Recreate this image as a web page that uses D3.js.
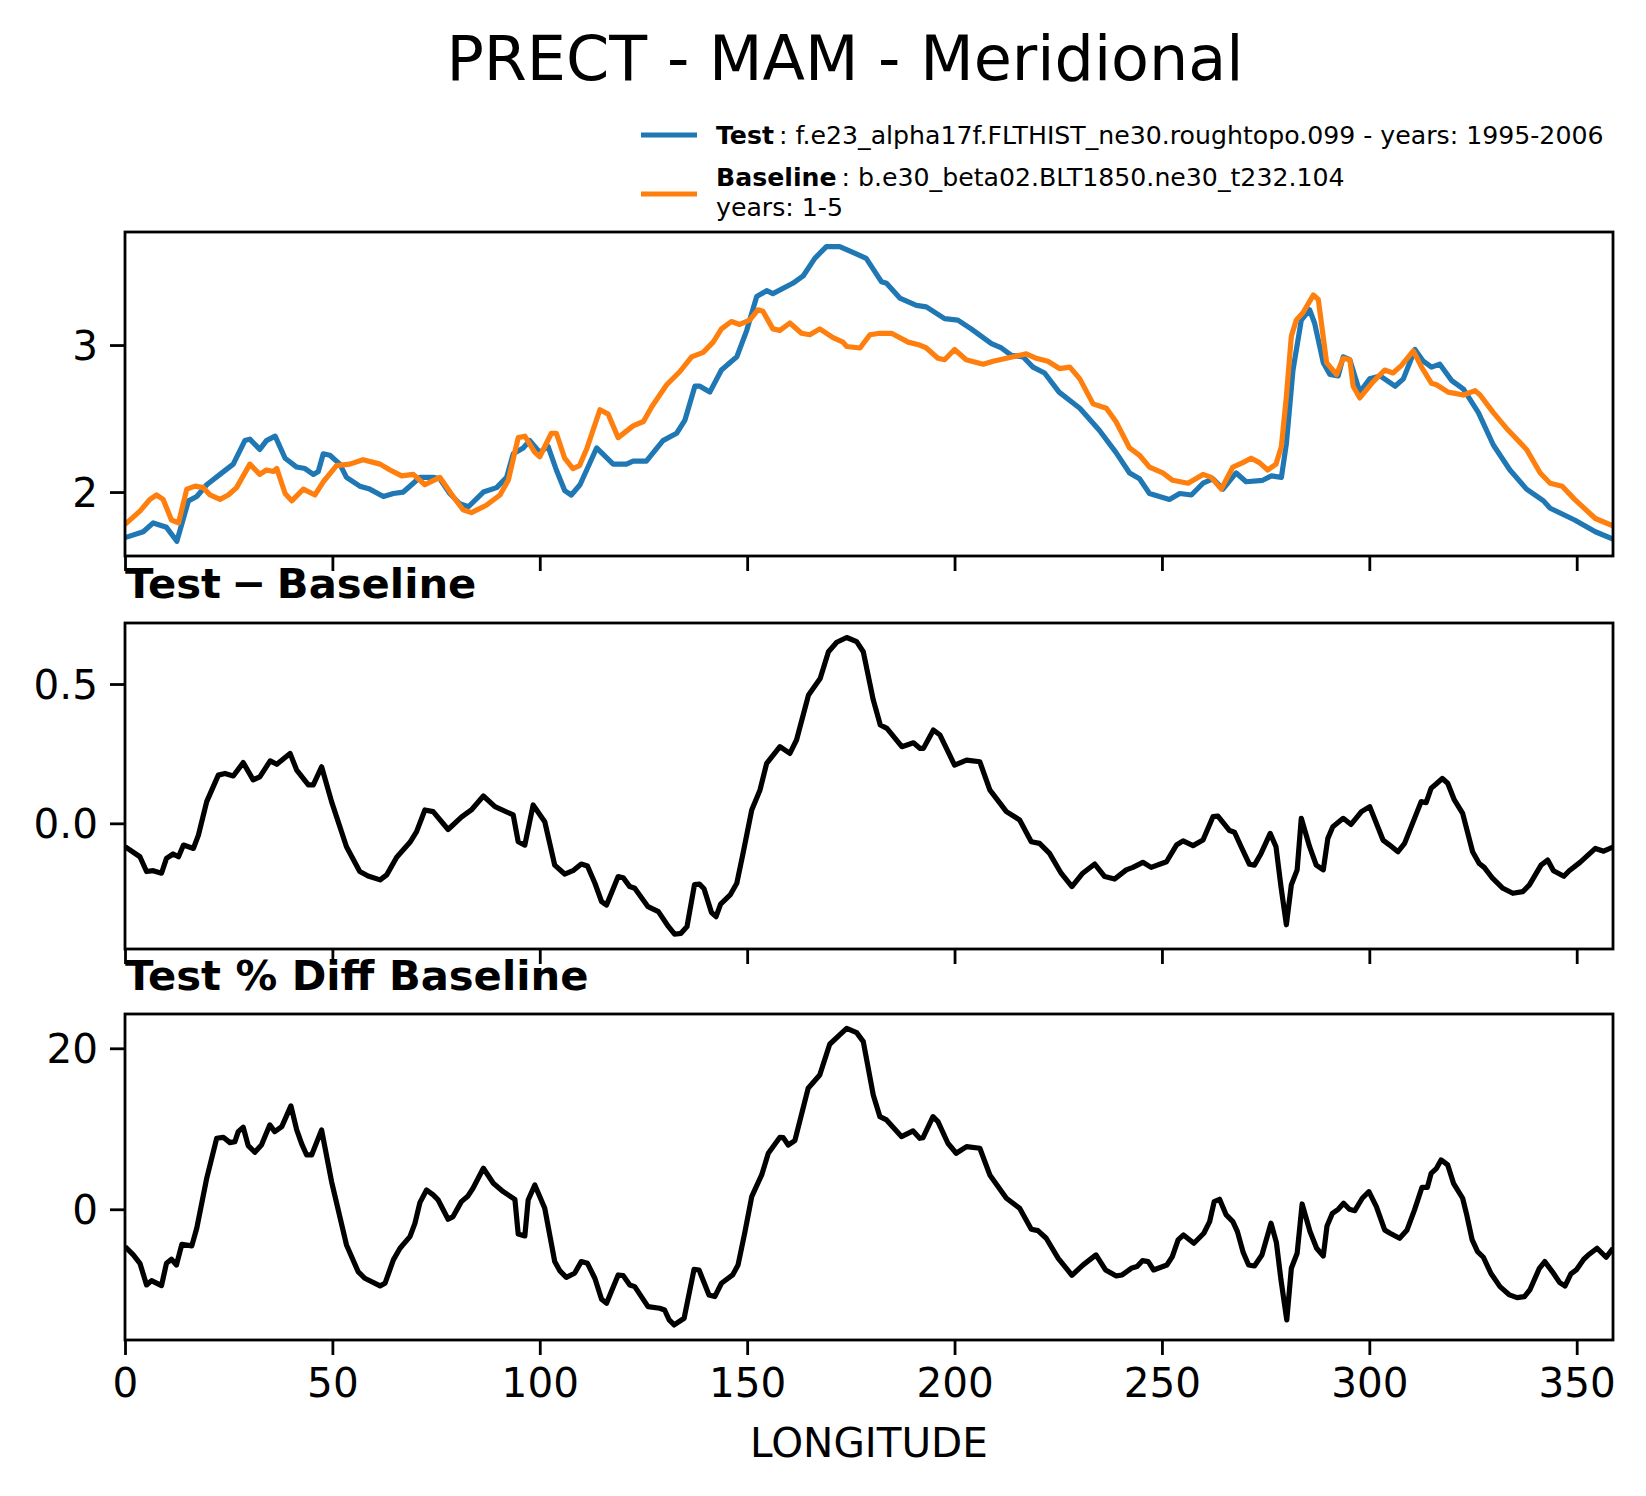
<!DOCTYPE html>
<html>
<head>
<meta charset="utf-8">
<script src="https://cdn.jsdelivr.net/npm/d3@7"></script>
<style>
  body { margin: 0; background: #fff; }
  svg { display: block; font-family: "DejaVu Sans", sans-serif; }
</style>
</head>
<body>
<div id="chart"></div>
<script>
// x axis //
var xTicks = [0, 50, 100, 150, 200, 250, 300, 350];
var xMax = 358.75;

// Test PRECT (blue)
var testLon = [0,4.4,6.8,10,12.5,15.3,17.3,19.7,22.9,26.1,
  28.9,30.1,32.5,34.1,36.2,38.6,41.4,43.4,45.4,46.6,
  47.8,49.4,51.8,53.4,56.6,59,62.3,64.7,67.1,69.5,
  71.1,74.3,75.9,78.3,80.7,82.8,86.4,89.6,92,93.6,
  96,97.6,100,102,104,106,107.6,109.7,113.7,117.7,
  120.9,122.5,125.7,129.7,133,135,137.4,138.6,141,143.8,
  147.5,149.9,152.3,154.7,156.2,161,163.5,166.3,169.1,172.3,
  175.5,178.7,182.4,183.6,186.8,190.8,193.2,197.6,200.8,204,
  208.9,211.3,213.7,216.5,218.9,221.7,225.2,230.2,234.9,238.9,
  242.2,244.6,247,249.4,251.8,254.3,257.1,259.9,262.3,264.7,
  267.9,270.3,274.3,276.4,278.8,280,281.6,283.6,285.6,286.8,
  288.9,290.5,292.5,293.7,295.3,297.7,300.1,302.6,306.2,308.2,
  311,313,315,317,319.8,322.7,326.3,329.9,333.9,337.9,
  342,343.6,349.5,354.5,358.75];
var testVal = [1.69,1.73,1.79,1.76,1.665,1.94,1.97,2.05,2.12,2.19,
  2.35,2.36,2.29,2.35,2.38,2.23,2.17,2.16,2.12,2.14,
  2.26,2.25,2.19,2.10,2.04,2.02,1.97,1.99,2.00,2.06,
  2.10,2.10,2.09,1.99,1.92,1.90,2.00,2.03,2.10,2.26,
  2.30,2.35,2.27,2.31,2.15,2.01,1.98,2.05,2.30,2.19,
  2.19,2.21,2.21,2.35,2.40,2.49,2.72,2.72,2.68,2.83,
  2.92,3.10,3.33,3.37,3.35,3.42,3.47,3.59,3.67,3.67,
  3.63,3.59,3.43,3.42,3.32,3.27,3.26,3.18,3.17,3.11,
  3.01,2.98,2.93,2.92,2.85,2.81,2.68,2.57,2.42,2.27,
  2.13,2.09,1.99,1.97,1.95,1.99,1.98,2.06,2.09,2.02,
  2.13,2.07,2.08,2.11,2.10,2.33,2.83,3.17,3.24,3.15,
  2.88,2.80,2.79,2.92,2.90,2.68,2.77,2.79,2.72,2.77,
  2.97,2.89,2.85,2.87,2.76,2.70,2.54,2.32,2.15,2.02,
  1.94,1.89,1.81,1.73,1.68];

// Baseline PRECT (orange)
var baseLon = [0,3.6,6,7.6,9.2,11.2,12.9,14.9,16.9,18.9,
  20.5,22.9,24.9,26.9,30.1,32.5,34.1,35.8,36.6,38.6,
  40.2,43,45.8,47.8,51,54.2,57.4,61.5,63.9,66.7,
  69.5,72.3,75.9,79.1,81.5,83.5,87.1,90.4,92.4,94.8,
  96.4,98.8,100,102.8,104,106,108,109.6,111.4,114.5,
  116.5,118.9,122.5,125,127,130.6,133.8,136.6,139.4,141.8,
  143.8,146.2,148.2,150.6,152.6,153.8,156.2,157.9,160.3,163.1,
  165.1,167.5,170.7,173.1,174,177.2,179.6,182,184.8,188.8,
  191.6,193.2,196,197.6,200,202.8,206.9,209.3,214.1,217.3,
  219.7,222.5,225.3,227.8,230.2,233.4,236.6,238.9,242.2,244.6,
  247,250.2,252.6,256.3,259.9,261.9,264.3,267.1,269.5,271.5,
  273.5,275.5,277.5,278.8,280,281.2,282.4,284,286.5,287.7,
  289.7,292.1,293.7,295.3,296.1,297.7,300.9,303.7,305.7,307.7,
  310.6,312.6,315,316.2,319,322.7,325.5,326.7,329.9,333.5,
  337.9,341.2,343.6,346.5,349.5,354.5,358.75];
var baseVal = [1.78,1.87,1.95,1.98,1.95,1.81,1.79,2.02,2.04,2.03,
  1.98,1.95,1.98,2.03,2.19,2.12,2.15,2.14,2.16,1.99,
  1.94,2.02,1.98,2.07,2.18,2.19,2.22,2.19,2.15,2.11,
  2.12,2.05,2.10,1.97,1.88,1.86,1.91,1.98,2.08,2.37,
  2.38,2.27,2.24,2.40,2.40,2.23,2.16,2.18,2.30,2.56,
  2.53,2.37,2.45,2.48,2.58,2.73,2.82,2.92,2.95,3.02,
  3.11,3.16,3.14,3.17,3.24,3.23,3.11,3.10,3.15,3.08,
  3.07,3.11,3.05,3.02,2.99,2.98,3.07,3.08,3.08,3.02,
  3.00,2.98,2.91,2.90,2.97,2.90,2.87,2.89,2.92,2.94,
  2.91,2.89,2.84,2.85,2.77,2.60,2.57,2.48,2.30,2.25,
  2.17,2.13,2.08,2.06,2.12,2.10,2.02,2.17,2.20,2.23,
  2.20,2.15,2.19,2.31,2.65,3.06,3.17,3.22,3.34,3.31,
  2.88,2.80,2.91,2.90,2.72,2.64,2.75,2.83,2.81,2.86,
  2.96,2.85,2.74,2.73,2.68,2.66,2.69,2.66,2.54,2.42,
  2.29,2.13,2.06,2.04,1.95,1.82,1.77];

// Test - Baseline
var diffLon = [0,3.6,5.2,6.8,8.8,10,11.6,12.9,14.1,16.5,
  17.7,19.7,22.5,24.1,26.1,28.5,30.9,32.5,35,36.6,
  39.8,41.4,44.2,45.4,47.4,49.8,53.4,56.6,58.6,61.5,
  63.1,65.5,68.7,70.3,72.3,74.3,77.9,81.1,83.5,86.4,
  89.2,93.6,94.8,96.4,98.4,101.2,103.6,106,108,110,
  111.5,113.3,114.9,116.1,118.9,120.1,121.7,122.9,126.1,128.6,
  131,132.5,134,135.5,137.3,138.5,139.6,141.4,142.5,143.6,
  145.9,147.5,149,151.1,153.1,154.7,157.9,160.3,161.9,164.8,
  167.6,169.6,171.6,174,176.4,178,180.4,182.1,183.7,187.3,
  190.1,191.7,192.5,194.9,196.5,200,202.9,206.1,208.5,212.5,
  215.7,218.5,220.5,222.9,225.7,228.3,230.9,233.8,236.2,238.6,
  241.4,243,245.4,247.4,251.1,253.5,255.1,257.5,259.9,262.3,
  263.5,266.3,267.5,269.1,271.1,272.3,273.9,276.1,277.5,278.7,
  280,281.2,282.6,283.6,285.6,287.2,288.9,290,291.2,293.7,
  295.6,298.1,300.1,303.3,304.9,306.9,308.5,312.5,313.7,314.9,
  316.1,317.6,318.9,320.5,322.5,324.9,326.5,327.7,329.7,332.2,
  334.6,337,338.6,341.4,343,344.4,346.9,348.2,350.8,354.5,
  356.5,358.75];
var diffVal = [-0.084,-0.12,-0.173,-0.17,-0.179,-0.126,-0.11,-0.12,-0.078,-0.09,
  -0.042,0.078,0.173,0.179,0.17,0.218,0.156,0.167,0.224,0.212,
  0.251,0.191,0.138,0.138,0.203,0.078,-0.084,-0.173,-0.189,-0.203,
  -0.185,-0.122,-0.068,-0.03,0.048,0.042,-0.022,0.022,0.048,0.098,
  0.06,0.03,-0.066,-0.078,0.066,0.006,-0.15,-0.182,-0.17,-0.146,
  -0.153,-0.215,-0.281,-0.293,-0.191,-0.195,-0.227,-0.233,-0.299,-0.317,
  -0.37,-0.398,-0.395,-0.37,-0.22,-0.218,-0.235,-0.32,-0.335,-0.29,
  -0.257,-0.215,-0.108,0.048,0.12,0.215,0.275,0.251,0.299,0.461,
  0.52,0.616,0.65,0.667,0.652,0.616,0.443,0.353,0.341,0.275,
  0.289,0.269,0.269,0.335,0.317,0.209,0.227,0.221,0.12,0.042,
  0.012,-0.066,-0.072,-0.108,-0.179,-0.227,-0.179,-0.146,-0.191,-0.2,
  -0.167,-0.158,-0.14,-0.158,-0.138,-0.078,-0.063,-0.08,-0.06,0.024,
  0.026,-0.026,-0.032,-0.084,-0.147,-0.15,-0.108,-0.036,-0.084,-0.227,
  -0.364,-0.221,-0.167,0.018,-0.084,-0.15,-0.167,-0.054,-0.012,0.018,
  -0.004,0.042,0.06,-0.06,-0.078,-0.102,-0.072,0.078,0.074,0.126,
  0.141,0.161,0.144,0.084,0.036,-0.102,-0.144,-0.158,-0.197,-0.233,
  -0.251,-0.245,-0.221,-0.15,-0.132,-0.17,-0.19,-0.17,-0.14,-0.09,
  -0.10,-0.085];

// Test % Diff Baseline
var pctLon = [0,2,3.6,5.2,6.4,8.8,10,11.2,12.4,13.7,
  16.1,17.3,19.7,22.1,23.7,25.3,26.5,27.3,28.5,29.7,
  31.3,32.9,34.9,36.1,37.8,40,41.4,42.6,43.8,45,
  47.4,49.8,53.4,56.2,57.8,61.5,62.7,64.7,66.3,68.7,
  69.9,71.1,72.7,74.3,75.5,77.9,79.1,81.1,82.7,83.9,
  86.4,88.8,91.2,94,94.8,96.4,97.2,98.8,101.2,103.6,
  104.8,106.4,108.4,110,111.5,113.3,114.9,116.1,118.9,120.1,
  121.7,122.9,126.1,128.9,130.1,131.2,132.4,134.8,137.2,138.4,
  140.8,142.2,143.8,146.5,147.8,149.4,151.1,153.5,155.1,157.9,
  158.7,159.9,161.5,164.7,167.5,169.9,172.3,174,176.4,178,
  180.4,182,183.6,187.2,190,191.6,192.4,194.8,196,198.4,
  200.4,202.9,206.1,208.5,212.5,215.7,218.5,220.1,222.1,225,
  228.3,231,234.1,236.4,239,240.4,242.6,244,245.3,246.7,
  248,251.2,252.5,253.9,255.2,257.7,260.1,261.5,262.6,263.9,
  265.5,267.1,268.2,269.6,270.9,272.3,274.1,276.3,277.6,278.7,
  280.1,281.2,282.6,283.8,285.7,287.3,288.9,289.8,291.1,292.5,
  293.8,295.2,296.5,298.3,299.9,301.7,303.7,305,307.3,309.1,
  310.9,312.7,314,314.9,316.2,317.3,318.9,320.3,322.5,323.4,
  324.8,326.1,327.5,329.3,331.5,333.8,335.6,337.4,338.7,341,
  342.3,344.1,345.9,347.2,348.6,349.9,351.7,353.1,354.9,357.1,
  358.75];
var pctVal = [-4.64,-5.67,-6.71,-9.40,-8.86,-9.48,-6.71,-6.21,-6.92,-4.35,
  -4.55,-2.36,3.85,8.82,8.94,8.28,8.41,9.65,10.19,7.91,
  7.08,7.99,10.48,9.65,10.27,12.84,9.86,8.12,6.75,6.75,
  9.86,3.44,-4.43,-7.74,-8.57,-9.52,-9.19,-6.29,-4.84,-3.40,
  -1.74,0.83,2.40,1.78,1.16,-1.24,-0.91,0.95,1.66,2.61,
  5.09,3.23,2.19,1.24,-3.06,-3.31,1.16,3.02,0.12,-6.50,
  -7.62,-8.45,-7.95,-6.50,-6.71,-8.60,-11.18,-11.68,-8.16,-8.24,
  -9.40,-9.61,-12.09,-12.30,-12.51,-13.75,-14.37,-13.54,-7.45,-7.54,
  -10.64,-10.85,-9.19,-8.16,-6.92,-2.98,1.57,4.27,6.96,8.94,
  8.90,7.99,8.53,15.03,16.69,20.50,21.66,22.48,21.95,20.83,
  14.20,11.51,11.10,9.03,9.73,8.82,8.90,11.51,10.89,8.20,
  6.96,7.78,7.58,4.27,1.37,0.12,-2.48,-2.65,-3.60,-6.09,
  -8.20,-6.90,-5.67,-7.54,-8.28,-8.16,-7.33,-7.12,-6.38,-6.50,
  -7.54,-6.92,-5.88,-3.81,-3.19,-4.22,-2.98,-1.53,0.95,1.24,
  -0.70,-1.53,-2.77,-5.38,-6.92,-7.04,-5.67,-1.74,-4.14,-8.78,
  -13.75,-7.33,-5.47,0.66,-2.77,-4.84,-5.80,-2.07,-0.50,0.00,
  0.75,0.00,-0.17,1.37,2.19,0.33,-2.57,-2.98,-3.60,-2.57,
  -0.08,2.73,2.73,4.47,5.09,6.13,5.51,3.23,1.37,-0.50,
  -3.81,-5.26,-5.96,-7.95,-9.61,-10.64,-10.97,-10.85,-10.02,-7.33,
  -6.50,-7.74,-9.11,-9.52,-8.03,-7.54,-6.21,-5.55,-4.84,-5.96,
  -4.84];

// y ranges and ticks per panel
var topDomain = [1.565, 3.769], topTicks = [2, 3];
var diffDomain = [-0.451, 0.719], diffTicks = [0, 0.5];
var pctDomain = [-16.24, 24.26], pctTicks = [0, 20];

var W = 1646, H = 1496;
var left = 125, right = 1613;
var blue = "#1f77b4", orange = "#ff7f0e";

var svg = d3.select("#chart").append("svg")
  .attr("width", W).attr("height", H);
svg.append("rect").attr("width", W).attr("height", H).attr("fill", "#fff");

var x = d3.scaleLinear().domain([0, xMax]).range([left, right]);

// draws one panel: frame, axes, lines //
var drawPanel = function(id, top, bottom, domain, ticks, fmt, series, xLabels) {
  var y = d3.scaleLinear().domain(domain).range([bottom, top]);
  var g = svg.append("g");

  g.append("clipPath").attr("id", "clip" + id)
    .append("rect").attr("x", left).attr("y", top)
    .attr("width", right - left).attr("height", bottom - top);

  var line = d3.line()
    .x(function(d) { return x(d[0]) })
    .y(function(d) { return y(d[1]) });

  series.forEach(function(s) {
    g.append("path")
      .datum(d3.zip(s.lon, s.val))
      .attr("clip-path", "url(#clip" + id + ")")
      .attr("fill", "none")
      .attr("stroke", s.color)
      .attr("stroke-width", 5.2)
      .attr("stroke-linejoin", "round")
      .attr("d", line);
  });

  var yAxis = g.append("g")
    .attr("transform", "translate(" + left + ",0)")
    .call(d3.axisLeft(y).tickValues(ticks).tickFormat(fmt).tickSize(15).tickPadding(12));
  var xAxis = g.append("g")
    .attr("transform", "translate(0," + bottom + ")")
    .call(d3.axisBottom(x).tickValues(xTicks).tickSize(15).tickPadding(12)
      .tickFormat(xLabels ? d3.format("d") : function() { return "" }));

  [yAxis, xAxis].forEach(function(a) {
    a.select(".domain").remove();
    a.selectAll(".tick line").attr("stroke", "#000").attr("stroke-width", 2.8);
    a.selectAll(".tick text")
      .attr("fill", "#000")
      .style("font-family", "DejaVu Sans")
      .style("font-size", "40.5px");
  });
  yAxis.selectAll(".tick text").attr("dy", "0.36em");
  xAxis.selectAll(".tick text").attr("dy", "0.74em");

  g.append("rect")
    .attr("x", left).attr("y", top)
    .attr("width", right - left).attr("height", bottom - top)
    .attr("fill", "none").attr("stroke", "#000").attr("stroke-width", 2.8);
};

drawPanel("a", 232, 556, topDomain, topTicks, d3.format("d"),
  [{lon: testLon, val: testVal, color: blue}, {lon: baseLon, val: baseVal, color: orange}], false);
drawPanel("b", 623, 949, diffDomain, diffTicks, d3.format(".1f"),
  [{lon: diffLon, val: diffVal, color: "#000"}], false);
drawPanel("c", 1014, 1340, pctDomain, pctTicks, d3.format("d"),
  [{lon: pctLon, val: pctVal, color: "#000"}], true);

// titles //
svg.append("text")
  .attr("x", 845).attr("y", 80)
  .attr("text-anchor", "middle")
  .style("font-size", "62px")
  .text("PRECT - MAM - Meridional");

svg.append("text")
  .attr("x", left).attr("y", 598)
  .style("font-size", "41.7px").style("font-weight", "bold")
  .style("word-spacing", "-4px")
  .text("Test \u2212 Baseline");

svg.append("text")
  .attr("x", left).attr("y", 990)
  .style("font-size", "41.7px").style("font-weight", "bold")
  .text("Test % Diff Baseline");

svg.append("text")
  .attr("x", (left + right) / 2).attr("y", 1457)
  .attr("text-anchor", "middle")
  .style("font-size", "40.5px")
  .text("LONGITUDE");

// legend //
var leg = svg.append("g").style("font-size", "25.2px");
leg.append("line").attr("x1", 641).attr("x2", 697).attr("y1", 135).attr("y2", 135)
  .attr("stroke", blue).attr("stroke-width", 5.2);
leg.append("line").attr("x1", 641).attr("x2", 697).attr("y1", 194).attr("y2", 194)
  .attr("stroke", orange).attr("stroke-width", 5.2);

var t1 = leg.append("text").attr("x", 716).attr("y", 144);
t1.append("tspan").style("font-weight", "bold").text("Test");
t1.append("tspan").attr("dx", 5).text(": f.e23_alpha17f.FLTHIST_ne30.roughtopo.099 - years: 1995-2006");

var t2 = leg.append("text").attr("x", 716).attr("y", 186);
t2.append("tspan").style("font-weight", "bold").text("Baseline");
t2.append("tspan").attr("dx", 5).text(": b.e30_beta02.BLT1850.ne30_t232.104");
leg.append("text").attr("x", 716).attr("y", 216).text("years: 1-5");
</script>
</body>
</html>
